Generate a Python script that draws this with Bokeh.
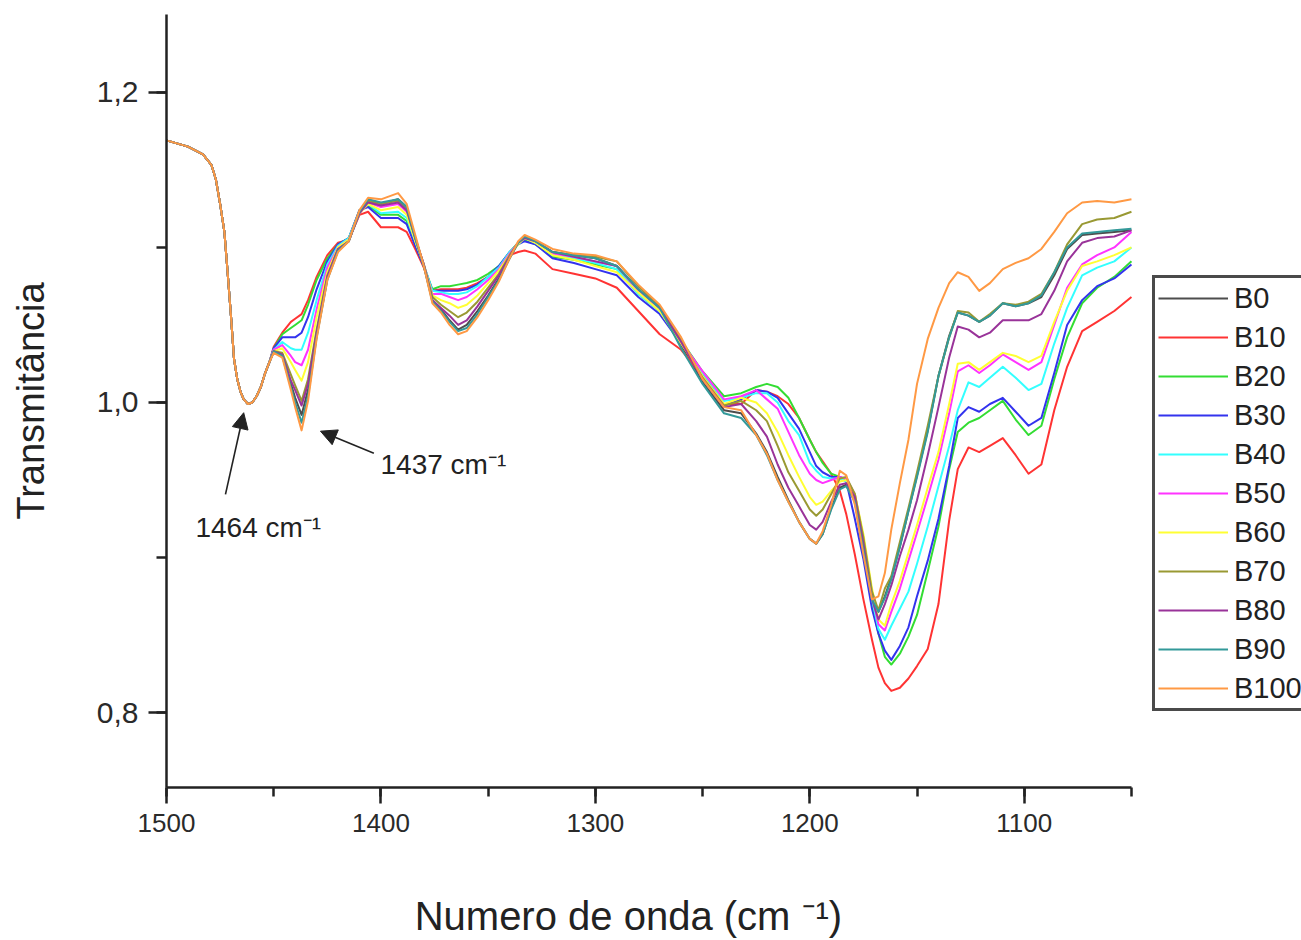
from bokeh.plotting import figure
from bokeh.models import (Range1d, FixedTicker, CustomJSTickFormatter, Legend,
                          LegendItem, Arrow, NormalHead, Label)
from bokeh.embed import file_html
from bokeh.resources import INLINE

# ---------------- data ----------------
HEAD_X = [1500, 1490, 1483, 1479, 1477, 1475, 1473, 1471.5, 1470, 1468.5, 1467,
          1465.5, 1464, 1462, 1460, 1458, 1456, 1454, 1452]
TAIL_X = [1450, 1446, 1442, 1440, 1437, 1434, 1430, 1425, 1420, 1415,
          1410, 1406, 1400, 1392, 1388, 1384, 1380, 1376, 1372, 1368,
          1364, 1360, 1355, 1350, 1345, 1340, 1336, 1333, 1328, 1320,
          1310, 1300, 1290, 1280, 1270, 1260, 1250, 1240, 1232, 1225,
          1220, 1215, 1210, 1205, 1200, 1197, 1194, 1190, 1186, 1183,
          1179, 1175, 1171, 1168, 1165, 1162, 1158, 1154, 1150, 1145,
          1140, 1135, 1131, 1126, 1121, 1116, 1110, 1104, 1098, 1092,
          1086, 1080, 1073, 1066, 1058, 1050]
WAVENUMBER = HEAD_X + TAIL_X

# common part of all spectra (1500-1452 cm-1)
HEAD_T = [1.169, 1.165, 1.160, 1.153, 1.144, 1.128, 1.110, 1.084, 1.057, 1.028,
          1.015, 1.007, 1.002, 0.999, 1.000, 1.004, 1.010, 1.019, 1.026]

B0 = HEAD_T + [
    1.033, 1.030, 1.012, 1.003, 0.992, 1.008, 1.043, 1.080, 1.098, 1.104,
    1.123, 1.130, 1.128, 1.131, 1.126, 1.106, 1.088, 1.066, 1.060, 1.053,
    1.047, 1.050, 1.059, 1.069, 1.080, 1.093, 1.103, 1.107, 1.104, 1.097,
    1.095, 1.093, 1.088, 1.073, 1.061, 1.037, 1.013, 0.995, 0.993, 0.980,
    0.968, 0.952, 0.937, 0.923, 0.912, 0.909, 0.915, 0.932, 0.945, 0.947,
    0.938, 0.907, 0.874, 0.865, 0.875, 0.887, 0.907, 0.930, 0.953, 0.982,
    1.017, 1.043, 1.058, 1.056, 1.052, 1.056, 1.064, 1.062, 1.064, 1.068,
    1.082, 1.099, 1.108, 1.109, 1.110, 1.111]
B10 = HEAD_T + [
    1.036, 1.045, 1.052, 1.054, 1.057, 1.066, 1.081, 1.095, 1.103, 1.105,
    1.121, 1.123, 1.113, 1.113, 1.110, 1.099, 1.087, 1.072, 1.073, 1.073,
    1.073, 1.074, 1.077, 1.081, 1.087, 1.095, 1.097, 1.098, 1.096, 1.086,
    1.083, 1.080, 1.074, 1.059, 1.044, 1.034, 1.017, 0.999, 0.999, 1.008,
    1.007, 1.004, 0.999, 0.990, 0.976, 0.968, 0.962, 0.954, 0.943, 0.928,
    0.902, 0.873, 0.847, 0.829, 0.819, 0.814, 0.816, 0.822, 0.830, 0.841,
    0.870, 0.924, 0.957, 0.971, 0.968, 0.972, 0.977, 0.966, 0.954, 0.960,
    0.995, 1.023, 1.046, 1.052, 1.059, 1.068]
B20 = HEAD_T + [
    1.035, 1.044, 1.048, 1.050, 1.053, 1.063, 1.079, 1.093, 1.102, 1.106,
    1.124, 1.127, 1.121, 1.121, 1.117, 1.102, 1.088, 1.073, 1.075, 1.075,
    1.076, 1.077, 1.079, 1.083, 1.088, 1.097, 1.103, 1.105, 1.102, 1.094,
    1.092, 1.089, 1.086, 1.070, 1.059, 1.040, 1.020, 1.004, 1.006, 1.010,
    1.012, 1.010, 1.003, 0.990, 0.976, 0.968, 0.961, 0.954, 0.952, 0.950,
    0.937, 0.902, 0.870, 0.851, 0.836, 0.831, 0.838, 0.849, 0.863, 0.891,
    0.920, 0.957, 0.981, 0.987, 0.990, 0.995, 1.001, 0.989, 0.979, 0.985,
    1.015, 1.042, 1.064, 1.074, 1.081, 1.091]
B30 = HEAD_T + [
    1.035, 1.042, 1.042, 1.042, 1.045, 1.055, 1.073, 1.091, 1.102, 1.106,
    1.124, 1.126, 1.119, 1.119, 1.115, 1.101, 1.088, 1.072, 1.072, 1.072,
    1.072, 1.073, 1.076, 1.081, 1.088, 1.097, 1.102, 1.104, 1.102, 1.093,
    1.090, 1.086, 1.082, 1.068, 1.057, 1.038, 1.019, 0.998, 1.002, 1.008,
    1.007, 1.003, 0.993, 0.983, 0.968, 0.959, 0.955, 0.952, 0.952, 0.949,
    0.925, 0.899, 0.867, 0.851, 0.840, 0.834, 0.843, 0.855, 0.875, 0.898,
    0.925, 0.959, 0.990, 0.997, 0.994, 0.999, 1.003, 0.994, 0.985, 0.990,
    1.019, 1.050, 1.066, 1.075, 1.080, 1.089]
B40 = HEAD_T + [
    1.034, 1.039, 1.035, 1.034, 1.034, 1.045, 1.066, 1.089, 1.101, 1.106,
    1.123, 1.128, 1.122, 1.123, 1.119, 1.104, 1.089, 1.072, 1.071, 1.070,
    1.070, 1.071, 1.075, 1.081, 1.087, 1.097, 1.102, 1.106, 1.103, 1.095,
    1.093, 1.090, 1.086, 1.070, 1.059, 1.039, 1.019, 1.001, 1.003, 1.006,
    1.006, 1.000, 0.988, 0.979, 0.961, 0.956, 0.952, 0.951, 0.951, 0.949,
    0.939, 0.907, 0.873, 0.854, 0.847, 0.856, 0.867, 0.878, 0.896, 0.920,
    0.946, 0.972, 0.995, 1.013, 1.010, 1.016, 1.023, 1.016, 1.008, 1.012,
    1.038, 1.061, 1.082, 1.087, 1.091, 1.100]
B50 = HEAD_T + [
    1.034, 1.037, 1.030, 1.026, 1.024, 1.034, 1.060, 1.087, 1.100, 1.105,
    1.123, 1.129, 1.126, 1.128, 1.123, 1.105, 1.089, 1.070, 1.070, 1.068,
    1.066, 1.068, 1.073, 1.079, 1.086, 1.096, 1.103, 1.106, 1.104, 1.096,
    1.094, 1.091, 1.088, 1.072, 1.060, 1.039, 1.020, 1.002, 1.004, 1.008,
    1.002, 0.996, 0.981, 0.966, 0.954, 0.950, 0.948, 0.950, 0.952, 0.951,
    0.941, 0.912, 0.876, 0.857, 0.853, 0.865, 0.880, 0.898, 0.916, 0.939,
    0.963, 0.993, 1.020, 1.024, 1.019, 1.024, 1.031, 1.026, 1.021, 1.026,
    1.050, 1.074, 1.089, 1.095, 1.100, 1.110]
B60 = HEAD_T + [
    1.033, 1.035, 1.026, 1.021, 1.014, 1.026, 1.055, 1.084, 1.100, 1.105,
    1.122, 1.128, 1.124, 1.126, 1.121, 1.104, 1.089, 1.069, 1.066, 1.064,
    1.061, 1.063, 1.069, 1.077, 1.085, 1.095, 1.102, 1.106, 1.103, 1.095,
    1.092, 1.088, 1.084, 1.071, 1.059, 1.038, 1.017, 0.999, 1.003, 1.000,
    0.993, 0.981, 0.966, 0.952, 0.939, 0.934, 0.936, 0.943, 0.949, 0.950,
    0.941, 0.915, 0.880, 0.860, 0.856, 0.870, 0.885, 0.903, 0.921, 0.945,
    0.968, 0.999, 1.025, 1.026, 1.021, 1.026, 1.032, 1.030, 1.026, 1.030,
    1.052, 1.072, 1.088, 1.091, 1.095, 1.100]
B70 = HEAD_T + [
    1.033, 1.032, 1.018, 1.011, 1.001, 1.015, 1.047, 1.082, 1.099, 1.104,
    1.123, 1.130, 1.128, 1.130, 1.125, 1.106, 1.089, 1.068, 1.063, 1.059,
    1.055, 1.058, 1.065, 1.074, 1.083, 1.095, 1.103, 1.107, 1.104, 1.097,
    1.095, 1.094, 1.091, 1.075, 1.062, 1.040, 1.016, 0.998, 1.001, 0.995,
    0.988, 0.972, 0.955, 0.943, 0.931, 0.927, 0.931, 0.941, 0.951, 0.952,
    0.941, 0.913, 0.878, 0.866, 0.880, 0.888, 0.910, 0.932, 0.955, 0.985,
    1.017, 1.042, 1.059, 1.058, 1.052, 1.057, 1.064, 1.063, 1.065, 1.070,
    1.084, 1.102, 1.115, 1.118, 1.119, 1.123]
B80 = HEAD_T + [
    1.033, 1.031, 1.014, 1.008, 0.998, 1.012, 1.045, 1.081, 1.099, 1.104,
    1.122, 1.129, 1.127, 1.129, 1.124, 1.106, 1.089, 1.066, 1.061, 1.056,
    1.050, 1.053, 1.062, 1.072, 1.082, 1.094, 1.103, 1.106, 1.104, 1.097,
    1.094, 1.091, 1.088, 1.073, 1.061, 1.039, 1.015, 0.997, 0.999, 0.988,
    0.978, 0.960, 0.945, 0.933, 0.921, 0.918, 0.923, 0.936, 0.947, 0.948,
    0.939, 0.909, 0.873, 0.860, 0.870, 0.882, 0.901, 0.918, 0.937, 0.966,
    0.997, 1.029, 1.049, 1.047, 1.042, 1.045, 1.053, 1.053, 1.053, 1.057,
    1.072, 1.091, 1.103, 1.106, 1.107, 1.111]
B90 = HEAD_T + [
    1.033, 1.030, 1.010, 1.000, 0.987, 1.004, 1.042, 1.079, 1.098, 1.104,
    1.123, 1.131, 1.129, 1.131, 1.126, 1.106, 1.088, 1.065, 1.059, 1.052,
    1.046, 1.048, 1.057, 1.068, 1.079, 1.093, 1.103, 1.107, 1.104, 1.097,
    1.095, 1.093, 1.088, 1.073, 1.061, 1.035, 1.012, 0.993, 0.990, 0.979,
    0.966, 0.950, 0.936, 0.923, 0.912, 0.909, 0.915, 0.931, 0.944, 0.946,
    0.936, 0.905, 0.873, 0.865, 0.874, 0.886, 0.907, 0.930, 0.952, 0.981,
    1.017, 1.042, 1.058, 1.056, 1.052, 1.056, 1.064, 1.062, 1.064, 1.069,
    1.084, 1.100, 1.109, 1.110, 1.111, 1.112]
B100 = HEAD_T + [
    1.032, 1.029, 1.008, 0.997, 0.982, 1.001, 1.041, 1.079, 1.097, 1.104,
    1.124, 1.132, 1.131, 1.135, 1.128, 1.108, 1.088, 1.064, 1.058, 1.050,
    1.044, 1.046, 1.055, 1.066, 1.078, 1.093, 1.104, 1.108, 1.105, 1.099,
    1.096, 1.095, 1.091, 1.076, 1.063, 1.042, 1.015, 0.997, 0.995, 0.979,
    0.967, 0.950, 0.936, 0.923, 0.912, 0.909, 0.917, 0.934, 0.956, 0.953,
    0.934, 0.902, 0.873, 0.875, 0.890, 0.918, 0.948, 0.976, 1.012, 1.041,
    1.061, 1.077, 1.084, 1.081, 1.072, 1.077, 1.086, 1.090, 1.093, 1.099,
    1.110, 1.122, 1.129, 1.130, 1.129, 1.131]

SERIES_NAMES = ["B0", "B10", "B20", "B30", "B40", "B50", "B60", "B70", "B80", "B90", "B100"]
SERIES_VALUES = [B0, B10, B20, B30, B40, B50, B60, B70, B80, B90, B100]
SERIES_COLORS = ["#4d4d4d", "#ff3333", "#33dd33", "#3333ee", "#33ffff", "#ff33ff",
                 "#ffff33", "#999933", "#993399", "#339999", "#ff9944"]

X_MAJOR = [1100, 1200, 1300, 1400, 1500]
X_MINOR = [1050, 1100, 1150, 1200, 1250, 1300, 1350, 1400, 1450, 1500]
Y_MAJOR = [0.8, 1.0, 1.2]
Y_MINOR = [0.8, 0.9, 1.0, 1.1, 1.2]

# ---------------- figure ----------------
# the frame runs to the right edge so that the legend (drawn inside it) is not clipped;
# the x axis itself is bounded to 1500..1050
p = figure(width=1301, height=940,
           x_range=Range1d(1500, 970.7), y_range=Range1d(0.7517, 1.2502),
           output_backend="svg", toolbar_location=None,
           min_border_left=166, min_border_right=0,
           min_border_top=14, min_border_bottom=152,
           background_fill_color="white", border_fill_color="white")
p.outline_line_color = None
p.xgrid.visible = False
p.ygrid.visible = False

xa = p.xaxis[0]
ya = p.yaxis[0]
xa.bounds = (1050, 1500)
xa.ticker = FixedTicker(ticks=X_MAJOR, minor_ticks=X_MINOR)
ya.ticker = FixedTicker(ticks=Y_MAJOR, minor_ticks=Y_MINOR)
ya.formatter = CustomJSTickFormatter(code="return tick.toFixed(1).replace('.', ',');")

for ax in (xa, ya):
    ax.axis_line_width = 2.5
    ax.axis_line_color = "#222222"
    ax.major_tick_line_width = 2.5
    ax.major_tick_line_color = "#222222"
    ax.minor_tick_line_width = 2.5
    ax.minor_tick_line_color = "#222222"
    ax.major_tick_in = 0
    ax.minor_tick_in = 0
    ax.axis_label_text_font_style = "normal"
    ax.axis_label_text_color = "#222222"
    ax.major_label_text_color = "#2a2a2a"

xa.major_tick_out = 16
xa.minor_tick_out = 9
xa.major_label_standoff = 10
xa.major_label_text_font = "Liberation Sans"
xa.major_label_text_font_size = "26px"
xa.axis_label = "Numero de onda (cm \u207b\u00b9)" + "\u00a0" * 19
xa.axis_label_text_font = "Liberation Sans"
xa.axis_label_text_font_size = "40px"
xa.axis_label_standoff = 59

ya.major_tick_out = 18
ya.minor_tick_out = 10
ya.major_label_standoff = 10
ya.major_label_text_font = "Liberation Sans"
ya.major_label_text_font_size = "30px"
ya.axis_label = "Transmitância"
ya.axis_label_text_font = "Liberation Sans"
ya.axis_label_text_font_size = "38px"
ya.axis_label_standoff = 42

renderers = []
for name, vals, col in zip(SERIES_NAMES, SERIES_VALUES, SERIES_COLORS):
    r = p.line(WAVENUMBER, vals, line_color=col, line_width=2, line_join="round")
    renderers.append(r)

legend = Legend(items=[LegendItem(label=n, renderers=[r]) for n, r in zip(SERIES_NAMES, renderers)],
                location=(986, 76), orientation="vertical",
                glyph_width=70, glyph_height=34, label_height=34, label_width=80,
                label_standoff=6, padding=3, spacing=5, margin=0,
                label_text_font="Liberation Sans", label_text_font_size="29px",
                label_text_color="#222222",
                border_line_color="#4a4a4a", border_line_width=3, border_line_alpha=1.0,
                background_fill_color="white", background_fill_alpha=1.0)
p.add_layout(legend)

# arrows and annotations
ARROW_STYLE = dict(line_color="#222222", line_width=1.6)
p.add_layout(Arrow(end=NormalHead(size=16, fill_color="#222222", line_color="#222222"),
                   x_start=1472.5, y_start=0.9407, x_end=1464.0, y_end=0.9934, **ARROW_STYLE))
p.add_layout(Arrow(end=NormalHead(size=16, fill_color="#222222", line_color="#222222"),
                   x_start=1403.3, y_start=0.9672, x_end=1428.2, y_end=0.9815, **ARROW_STYLE))

LABEL_STYLE = dict(text_font="Liberation Sans", text_font_size="28px", text_color="#222222",
                   text_baseline="alphabetic", text_align="left")
p.add_layout(Label(x=1486.5, y=0.9195, text="1464 cm\u207b\u00b9", **LABEL_STYLE))
p.add_layout(Label(x=1400.2, y=0.960, text="1437 cm\u207b\u00b9", **LABEL_STYLE))

open("out.html", "w").write(file_html(p, INLINE))
